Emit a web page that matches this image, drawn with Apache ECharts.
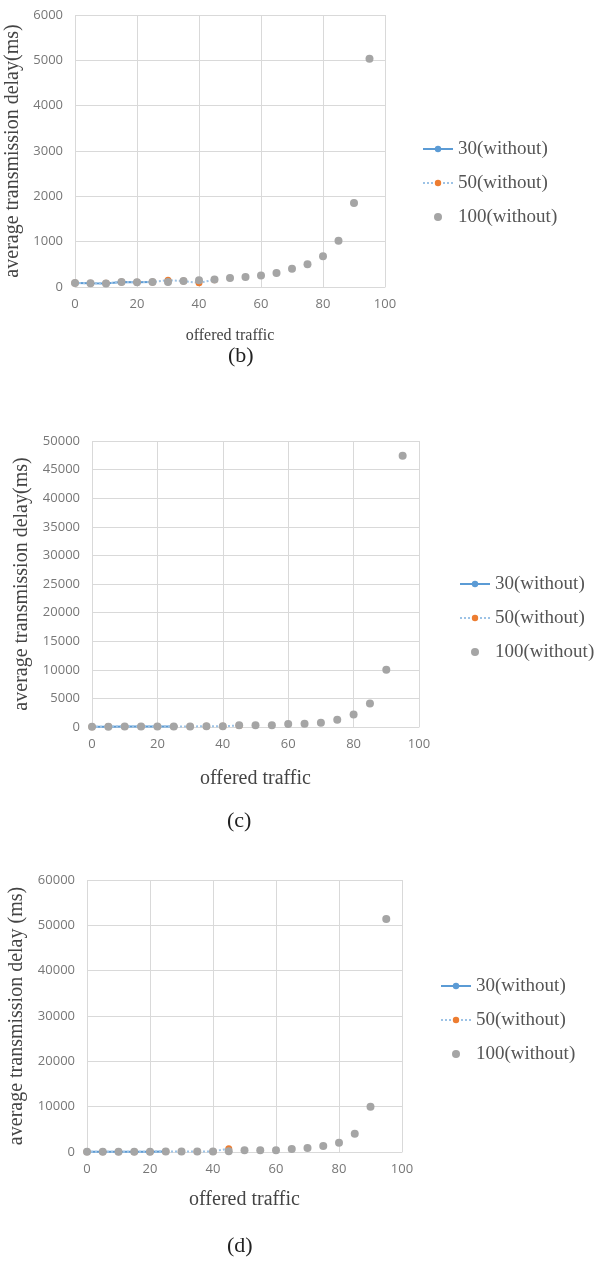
<!DOCTYPE html>
<html>
<head>
<meta charset="utf-8">
<script src="https://cdn.jsdelivr.net/npm/echarts@6/dist/echarts.min.js"></script>
<style>
  html, body { margin: 0; padding: 0; background: #fff; }
  #chart { width: 609px; height: 1265px; }
</style>
</head>
<body>
<div id="chart"></div>
<script>
// Offered traffic values (x) shared by the three panels
const offered = [0, 5, 10, 15, 20, 25, 30, 35, 40, 45, 50, 55, 60, 65, 70, 75, 80, 85, 90, 95];

// Panel (b): average transmission delay (ms)
const b30 = [88, 80, 78, 110, 105, 110];
const b50 = [90, 82, 80, 112, 106, 112, 150, 130, 92, 160];
const b100 = [90, 80, 78, 110, 105, 110, 112, 133, 148, 163, 200, 222, 252, 311, 400, 504, 681, 1022, 1852, 5037];

// Panel (c)
const c30 = [60, 62, 68, 72, 78, 88];
const c50 = [62, 66, 70, 75, 82, 92, 105, 115, 135, 260];
const c100 = [60, 65, 70, 75, 80, 90, 100, 110, 130, 290, 300, 320, 530, 560, 750, 1250, 2200, 4100, 10000, 47400];

// Panel (d)
const d30 = [60, 62, 68, 72, 78, 88];
const d50 = [62, 66, 70, 75, 82, 92, 105, 115, 135, 735];
const d100 = [60, 65, 70, 75, 80, 90, 100, 110, 130, 150, 370, 370, 380, 660, 880, 1320, 2060, 4000, 10000, 51400];

// Axis ranges
const yMax = [6000, 50000, 60000];
const yStep = [1000, 5000, 10000];

const seriesNames = ['30(without)', '50(without)', '100(without)'];
const panelLabels = ['(b)', '(c)', '(d)'];
const yTitles = ['average transmission delay(ms)', 'average transmission delay(ms)', 'average transmission delay (ms)'];
const xTitle = 'offered traffic';

const pair = arr => arr.map((v, i) => [offered[i], v]);
const panels = [[b30, b50, b100], [c30, c50, c100], [d30, d50, d100]];

const serif = 'Liberation Serif';
const sans = 'Open Sans';
const gridColor = '#d9d9d9';

// Layout of each panel
const layout = [
  { grid: { left: 75, top: 15, width: 310, height: 272 }, yGap: 46, xGap: 41, xFont: 16, yFont: 20,
    legend: { left: 417, top: 134 }, label: { x: 241, y: 358 } },
  { grid: { left: 92, top: 441, width: 327, height: 286 }, yGap: 60, xGap: 42, xFont: 20, yFont: 20,
    legend: { left: 454, top: 569 }, label: { x: 240, y: 823 } },
  { grid: { left: 87, top: 880, width: 315, height: 272 }, yGap: 56, xGap: 38, xFont: 20, yFont: 20,
    legend: { left: 435, top: 971 }, label: { x: 240, y: 1248 } }
];

const grids = [], xAxes = [], yAxes = [], series = [], legends = [], graphics = [];

layout.forEach((L, p) => {
  grids.push(Object.assign({ containLabel: false, outerBoundsMode: 'none' }, L.grid));
  xAxes.push({
    type: 'value', gridIndex: p, min: 0, max: 100, interval: 20,
    name: xTitle, nameLocation: 'middle', nameGap: L.xGap,
    nameTextStyle: { fontFamily: serif, fontSize: L.xFont, color: '#444' },
    axisLine: { lineStyle: { color: gridColor } },
    axisTick: { show: false },
    axisLabel: { fontFamily: sans, fontSize: 13, color: '#777', margin: 11 },
    splitLine: { show: true, lineStyle: { color: gridColor, width: 1 } }
  });
  yAxes.push({
    type: 'value', gridIndex: p, min: 0, max: yMax[p], interval: yStep[p],
    name: yTitles[p], nameLocation: 'middle', nameGap: L.yGap, nameRotate: 90,
    nameTextStyle: { fontFamily: serif, fontSize: L.yFont, color: '#444' },
    axisLine: { show: false },
    axisTick: { show: false },
    axisLabel: { fontFamily: sans, fontSize: 13, color: '#777', margin: 12, formatter: v => String(v) },
    splitLine: { show: true, lineStyle: { color: gridColor, width: 1 } }
  });

  const [s30, s50, s100] = panels[p];
  series.push({
    name: seriesNames[0], type: 'line', xAxisIndex: p, yAxisIndex: p, z: 2,
    data: pair(s30), symbol: 'circle', symbolSize: 6,
    itemStyle: { color: '#5B9BD5' },
    lineStyle: { color: '#5B9BD5', width: 2 }
  });
  series.push({
    name: seriesNames[1], type: 'line', xAxisIndex: p, yAxisIndex: p, z: 3,
    data: pair(s50), symbol: 'circle', symbolSize: 7,
    itemStyle: { color: '#ED7D31' },
    lineStyle: { color: '#9DC3E6', width: 2, type: 'dotted' }
  });
  series.push({
    name: seriesNames[2], type: 'scatter', xAxisIndex: p, yAxisIndex: p, z: 4,
    data: pair(s100), symbol: 'circle', symbolSize: 8,
    itemStyle: { color: '#A5A5A5', opacity: 1 }
  });

  legends.push({
    orient: 'vertical', left: L.legend.left, top: L.legend.top,
    itemWidth: 30, itemHeight: 8, itemGap: 14,
    selectedMode: false,
    data: seriesNames,
    textStyle: { fontFamily: serif, fontSize: 19, color: '#555', lineHeight: 20 }
  });

  graphics.push({
    type: 'text', left: L.label.x - 13, top: L.label.y - 13,
    style: { text: panelLabels[p], font: '22px "Liberation Serif"', fill: '#222' }
  });
});

const chart = echarts.init(document.getElementById('chart'), null, { renderer: 'canvas' });
chart.setOption({
  backgroundColor: '#fff',
  animation: false,
  grid: grids,
  xAxis: xAxes,
  yAxis: yAxes,
  legend: legends,
  series: series,
  graphic: graphics
});
</script>
</body>
</html>
